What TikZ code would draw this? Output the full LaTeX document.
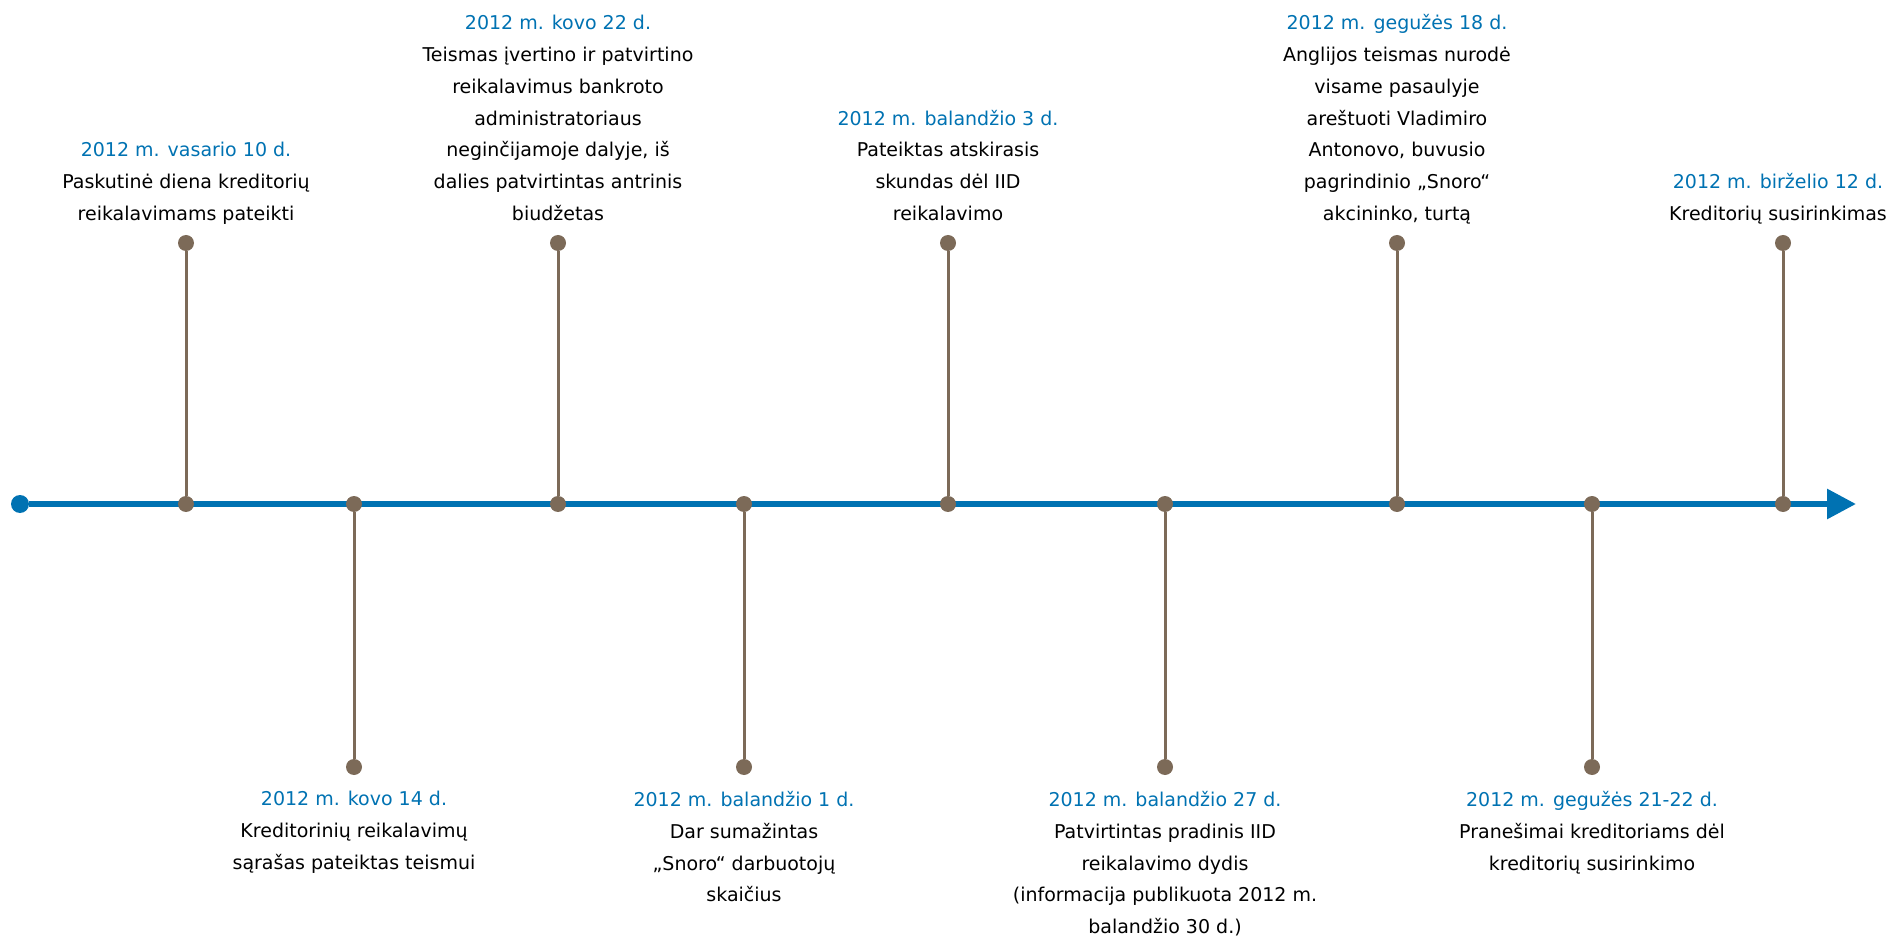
\documentclass[tikz,border=0pt]{standalone}
\usepackage{fontspec}
\setmainfont{DejaVu Sans}
\usetikzlibrary{positioning,arrows.meta,backgrounds}
\definecolor{tlblue}{RGB}{0,114,178}
\definecolor{tlbrown}{RGB}{124,106,88}
\newcommand{\evdate}[1]{\textcolor{tlblue}{#1}}

\begin{document}
\begin{tikzpicture}[x=0.5pt,y=-0.5pt,
    knot/.style={circle,fill=tlbrown,inner sep=0pt,minimum size=8pt},
    origin/.style={circle,fill=tlblue,inner sep=0pt,minimum size=9pt},
    stem/.style={draw=tlbrown,line width=1.5pt},
    timeline/.style={draw=tlblue,line width=3pt,-{Triangle[length=14.5pt,width=14.5pt]}},
    event/.style={align=center,inner sep=0pt,font=\fontsize{9.5pt}{15.85pt}\selectfont,
        execute at begin node=\strut,execute at end node=\strut}]
    \useasboundingbox (0,0) rectangle (1892,936);

    \node[origin] (O) at (20,504) {};
    \coordinate (T) at (1856,504);

    \node[knot] (A1) at (186,504) {};
    \node[knot] (A2) at (354,504) {};
    \node[knot] (A3) at (558,504) {};
    \node[knot] (A4) at (744,504) {};
    \node[knot] (A5) at (948,504) {};
    \node[knot] (A6) at (1165,504) {};
    \node[knot] (A7) at (1397,504) {};
    \node[knot] (A8) at (1592,504) {};
    \node[knot] (A9) at (1783,504) {};

    \node[knot] (P1) at (186,243) {};
    \node[knot] (P2) at (354,767) {};
    \node[knot] (P3) at (558,243) {};
    \node[knot] (P4) at (744,767) {};
    \node[knot] (P5) at (948,243) {};
    \node[knot] (P6) at (1165,767) {};
    \node[knot] (P7) at (1397,243) {};
    \node[knot] (P8) at (1592,767) {};
    \node[knot] (P9) at (1783,243) {};

    \node[event,above=2.25pt of P1] (E1) {\evdate{2012 m. vasario 10 d.}\\Paskutinė diena kreditorių\\reikalavimams pateikti};
    \node[event,below=7.8pt of P2] (E2) {\evdate{2012 m. kovo 14 d.}\\Kreditorinių reikalavimų\\sąrašas pateiktas teismui};
    \node[event,above=2.25pt of P3] (E3) {\evdate{2012 m. kovo 22 d.}\\Teismas įvertino ir patvirtino\\reikalavimus bankroto\\administratoriaus\\neginčijamoje dalyje, iš\\dalies patvirtintas antrinis\\biudžetas};
    \node[event,below=7.8pt of P4] (E4) {\evdate{2012 m. balandžio 1 d.}\\Dar sumažintas\\„Snoro“ darbuotojų\\skaičius};
    \node[event,above=2.25pt of P5] (E5) {\evdate{2012 m. balandžio 3 d.}\\Pateiktas atskirasis\\skundas dėl IID\\reikalavimo};
    \node[event,below=7.8pt of P6] (E6) {\evdate{2012 m. balandžio 27 d.}\\Patvirtintas pradinis IID\\reikalavimo dydis\\(informacija publikuota 2012 m.\\balandžio 30 d.)};
    \node[event,above=2.25pt of P7] (E7) {\evdate{2012 m. gegužės 18 d.}\\Anglijos teismas nurodė\\visame pasaulyje\\areštuoti Vladimiro\\Antonovo, buvusio\\pagrindinio „Snoro“\\akcininko, turtą};
    \node[event,below=7.8pt of P8] (E8) {\evdate{2012 m. gegužės 21-22 d.}\\Pranešimai kreditoriams dėl\\kreditorių susirinkimo};
    \node[event,above=2.25pt of P9,xshift=-2.5pt] (E9) {\evdate{2012 m. birželio 12 d.}\\Kreditorių susirinkimas};

    \begin{scope}[on background layer]
        \draw[timeline] (O) -- (T);
        \draw[stem] (P1) -- (A1);
        \draw[stem] (A2) -- (P2);
        \draw[stem] (P3) -- (A3);
        \draw[stem] (A4) -- (P4);
        \draw[stem] (P5) -- (A5);
        \draw[stem] (A6) -- (P6);
        \draw[stem] (P7) -- (A7);
        \draw[stem] (A8) -- (P8);
        \draw[stem] (P9) -- (A9);
    \end{scope}
\end{tikzpicture}
\end{document}
